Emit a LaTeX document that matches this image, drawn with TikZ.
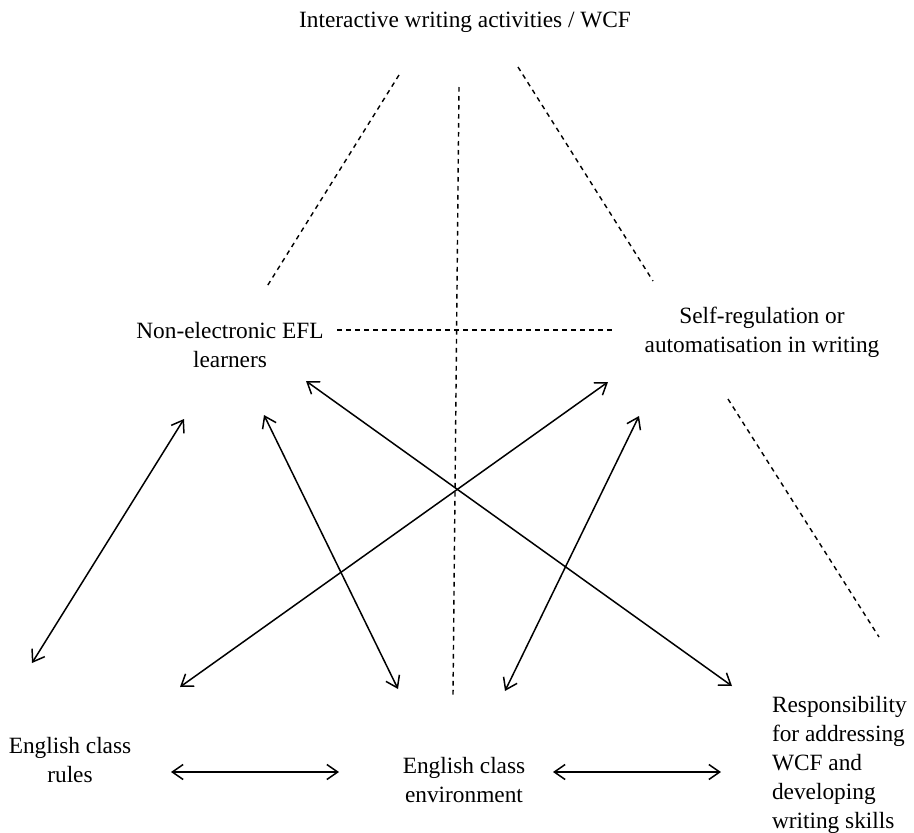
\documentclass[tikz,border=0pt]{standalone}
\usepackage{fontspec}
\setmainfont{Liberation Serif}
\usetikzlibrary{arrows.meta}

\begin{document}
\begin{tikzpicture}[x=0.6pt,y=-0.6pt]
\useasboundingbox (0,0) rectangle (914,833);
\begin{scope}[every node/.style={inner sep=0pt,outer sep=0pt,align=center,font=\fontsize{14}{17.5}\selectfont}]
    \node (iwa) at (465,22) {Interactive writing activities / WCF};
    \node (nel) at (230,345) {Non-electronic EFL\\learners};
    \node (srw) at (762,332) {Self-regulation or\\automatisation in writing};
    \node (ecr) at (70,760) {English class\\rules};
    \node (ece) at (464,780) {English class\\environment};
    \node [anchor=west,align=left] (raw) at (772,765) {Responsibility\\for addressing\\WCF and\\developing\\writing skills};
\end{scope}
% ends of the dashed guide lines
\coordinate (d1a) at (399,75);   \coordinate (d1b) at (266,288);
\coordinate (d2a) at (459,87);   \coordinate (d2b) at (453,695);
\coordinate (d3a) at (518,67);   \coordinate (d3b) at (653,281);
\coordinate (d4a) at (337,330);  \coordinate (d4b) at (613,330);
\coordinate (d5a) at (728,399);  \coordinate (d5b) at (879,637);
% ends of the arrows
\coordinate (nel1) at (184,419); \coordinate (ecr1) at (32,663);
\coordinate (nel2) at (264,415); \coordinate (ece1) at (398,689);
\coordinate (nel3) at (306,381); \coordinate (raw1) at (732,686);
\coordinate (srw1) at (608,382); \coordinate (ecr2) at (180,687);
\coordinate (srw2) at (639,416); \coordinate (ece2) at (505,691);
\coordinate (ecr3) at (171,772); \coordinate (ece3) at (339,772);
\coordinate (ece4) at (553,772); \coordinate (raw2) at (721,772);
\begin{scope}[>={Straight Barb[length=6.5pt,width=9pt]},
              dash_edge/.style={draw=black,line width=0.85pt,dash pattern=on 2.8pt off 2.6pt},
              arrow_edge/.style={draw=black,line width=0.9pt}]
    \path (d1a) edge [dash_edge] (d1b);
    \path (d2a) edge [dash_edge] (d2b);
    \path (d3a) edge [dash_edge] (d3b);
    \path (d4a) edge [dash_edge] (d4b);
    \path (d5a) edge [dash_edge] (d5b);
    \path [<->] (nel1) edge [arrow_edge] (ecr1);
    \path [<->] (nel2) edge [arrow_edge] (ece1);
    \path [<->] (nel3) edge [arrow_edge] (raw1);
    \path [<->] (srw1) edge [arrow_edge] (ecr2);
    \path [<->] (srw2) edge [arrow_edge] (ece2);
    \path [<->] (ecr3) edge [arrow_edge] (ece3);
    \path [<->] (ece4) edge [arrow_edge] (raw2);
\end{scope}
\end{tikzpicture}
\end{document}
